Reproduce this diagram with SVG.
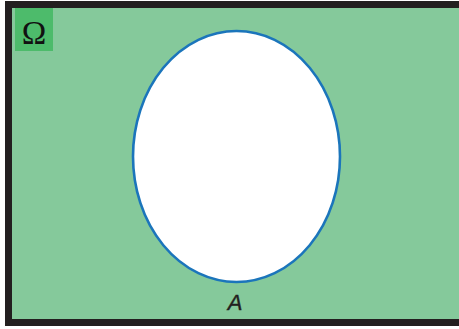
<svg xmlns="http://www.w3.org/2000/svg" width="459" height="329" viewBox="0 0 459 329">
  <style>
    .frame { fill: #85c99b; stroke: #231f20; stroke-width: 7; }
    .set { fill: #ffffff; stroke: #1b75bb; stroke-width: 2.6; }
    .omega { font-family: "Liberation Serif", "DejaVu Serif", serif; font-size: 33px; fill: #111111; }
    .lbl { font-family: "Liberation Sans", "DejaVu Sans", sans-serif; font-style: italic; font-size: 22px; fill: #231f20; stroke: #231f20; stroke-width: 0.4; }
  </style>
  <rect x="0" y="0" width="459" height="329" fill="#ffffff"/>
  <g id="universe">
    <rect class="frame" x="8.5" y="4.5" width="460" height="318"/>
    <rect x="15" y="8" width="38" height="43" fill="#4dbb6b"/>
    <text class="omega" x="34" y="44" text-anchor="middle">Ω</text>
  </g>
  <g id="setA">
    <ellipse class="set" cx="236.5" cy="156.5" rx="103.5" ry="125.5"/>
    <text class="lbl" x="235" y="310" text-anchor="middle">A</text>
  </g>
  <g id="connectors"/>
</svg>
